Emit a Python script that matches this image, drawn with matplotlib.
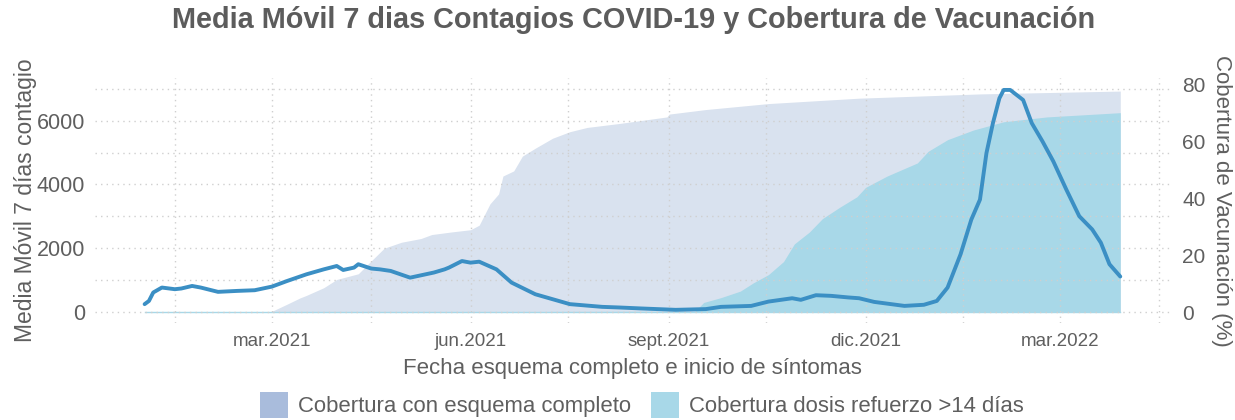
import matplotlib
matplotlib.use('Agg')
from matplotlib import pyplot as plt
from matplotlib.patches import Patch
from matplotlib.ticker import MultipleLocator
import pandas as pd

plt.rcParams['font.family'] = ['Liberation Sans', 'DejaVu Sans']

# media movil 7 dias de contagios
caseDates = ['2021-01-01', '2021-01-03', '2021-01-05', '2021-01-09', '2021-01-15', '2021-01-18',
             '2021-01-23', '2021-01-27', '2021-02-04', '2021-02-13', '2021-02-21', '2021-03-01',
             '2021-03-08', '2021-03-17', '2021-03-25', '2021-03-31', '2021-04-03', '2021-04-08',
             '2021-04-10', '2021-04-16', '2021-04-20', '2021-04-25', '2021-05-04', '2021-05-15',
             '2021-05-20', '2021-05-22', '2021-05-28', '2021-06-01', '2021-06-05', '2021-06-13',
             '2021-06-20', '2021-07-01', '2021-07-09', '2021-07-17', '2021-08-01', '2021-08-09',
             '2021-08-19', '2021-09-04', '2021-09-18', '2021-09-25', '2021-10-09', '2021-10-17',
             '2021-10-28', '2021-11-01', '2021-11-08', '2021-11-15', '2021-11-23', '2021-11-28',
             '2021-12-05', '2021-12-19', '2021-12-28', '2022-01-03', '2022-01-08', '2022-01-14',
             '2022-01-19', '2022-01-23', '2022-01-26', '2022-01-29', '2022-02-01', '2022-02-03',
             '2022-02-06', '2022-02-12', '2022-02-16', '2022-02-21', '2022-02-26', '2022-03-04',
             '2022-03-10', '2022-03-16', '2022-03-20', '2022-03-24', '2022-03-29']
caseValues = [250, 350, 615, 770, 718, 740,
              820, 770, 635, 665, 686, 800,
              975, 1185, 1340, 1445, 1320, 1395,
              1500, 1365, 1340, 1290, 1080, 1240,
              1340, 1395, 1600, 1550, 1580, 1340,
              925, 560, 405, 250, 165, 145,
              115, 72, 95, 165, 195, 330,
              435, 385, 530, 510, 460, 435,
              320, 195, 230, 350, 770, 1810,
              2900, 3525, 4980, 5920, 6700, 6960,
              6960, 6645, 5920, 5345, 4720, 3840,
              3005, 2590, 2175, 1500, 1115]

# cobertura esquema completo (%)
fullDates = ['2021-01-01', '2021-02-28', '2021-03-01', '2021-03-08', '2021-03-14', '2021-03-17',
             '2021-03-25', '2021-03-31', '2021-04-10', '2021-04-15', '2021-04-22', '2021-04-30',
             '2021-05-09', '2021-05-14', '2021-05-23', '2021-06-01', '2021-06-05', '2021-06-10',
             '2021-06-14', '2021-06-16', '2021-06-21', '2021-06-25', '2021-07-01', '2021-07-09',
             '2021-07-17', '2021-07-25', '2021-08-09', '2021-08-31', '2021-09-01', '2021-09-18',
             '2021-10-17', '2021-11-28', '2022-01-23', '2022-03-29']
fullValues = [0, 0, 0.3, 2.8, 5.0, 5.9,
              8.6, 11.5, 13.5, 17.3, 22.5, 24.6,
              25.9, 27.3, 28.2, 29.0, 30.6, 38.1,
              41.6, 47.9, 49.7, 54.9, 57.7, 61.2,
              63.5, 65.0, 66.4, 68.7, 69.7, 71.3,
              73.4, 75.3, 76.8, 77.8]

# cobertura dosis refuerzo >14 dias (%)
boostDates = ['2021-01-01', '2021-09-13', '2021-09-17', '2021-09-25', '2021-10-04', '2021-10-10',
              '2021-10-17', '2021-10-24', '2021-10-29', '2021-11-05', '2021-11-11', '2021-11-19',
              '2021-11-27', '2021-12-01', '2021-12-11', '2021-12-25', '2021-12-30', '2022-01-08',
              '2022-01-20', '2022-02-03', '2022-02-23', '2022-03-29']
boostValues = [0, 0.3, 3.4, 5.1, 7.4, 10.3,
               13.2, 17.8, 24.0, 28.2, 32.9, 36.9,
               40.6, 43.9, 47.9, 52.5, 56.6, 60.7,
               64.1, 67.0, 68.7, 70.2]

tickDates = ['2021-03-01', '2021-06-01', '2021-09-01', '2021-12-01', '2022-03-01']
tickLabels = ['mar.2021', 'jun.2021', 'sept.2021', 'dic.2021', 'mar.2022']
minorDates = ['2021-01-15', '2021-04-16', '2021-07-16', '2021-10-16', '2022-01-15', '2022-04-16']

textColor = '#5f5f5f'
gridColor = '#cfcfcf'
fullColor = '#a9bcdc'
fullArea = '#d9e2ef'
boostColor = '#a8d8e8'
lineColor = '#3b8fc4'
coef = 89.0

fig = plt.figure(figsize=(12.35, 4.2), dpi=100)
ax = fig.add_axes([0.0769, 0.231, 0.8704, 0.583])
ax2 = ax.twinx()

fd = pd.to_datetime(fullDates)
bd = pd.to_datetime(boostDates)
cd = pd.to_datetime(caseDates)

ax2.fill_between(fd, 0, fullValues, color=fullArea, linewidth=0)
ax2.fill_between(bd, 0, boostValues, color=boostColor, linewidth=0)
ax2.plot([bd[0], bd[-1]], [0, 0], color=boostColor, lw=1)

ax.set_zorder(ax2.get_zorder() + 1)
ax.patch.set_visible(False)
ax.plot(cd, caseValues, color=lineColor, lw=2.8, solid_capstyle='round', solid_joinstyle='round')

ylo, yhi = -340, 7330
ax.set_ylim(ylo, yhi)
ax2.set_ylim(ylo / coef, yhi / coef)
ax.set_xlim(pd.Timestamp('2020-12-09'), pd.Timestamp('2022-04-21'))

ax.set_yticks([0, 2000, 4000, 6000])
ax.yaxis.set_minor_locator(MultipleLocator(1000))
ax2.set_yticks([0, 20, 40, 60, 80])
ax.set_xticks(pd.to_datetime(tickDates))
ax.set_xticklabels(tickLabels)
ax.set_xticks(pd.to_datetime(minorDates), minor=True)

for a in (ax, ax2):
    for s in a.spines.values():
        s.set_visible(False)
    a.tick_params(which='both', length=0, colors=textColor)

ax.tick_params(axis='y', pad=7, labelsize=15.5)
ax2.tick_params(axis='y', pad=9, labelsize=15)
ax.tick_params(axis='x', pad=7, labelsize=13.5)

ax.grid(True, which='both', color=gridColor, linestyle=(0, (1, 3)), linewidth=1)
ax.set_axisbelow(True)

ax.set_ylabel('Media Móvil 7 días contagio', color=textColor, fontsize=16.5, labelpad=0)
ax2.set_ylabel('Cobertura de Vacunación (%)', color=textColor, fontsize=16, rotation=-90, labelpad=19)
ax.set_xlabel('Fecha esquema completo e inicio de síntomas', color=textColor, fontsize=16, labelpad=6)

fig.text(0.513, 0.952, 'Media Móvil 7 dias Contagios COVID-19 y Cobertura de Vacunación',
         ha='center', va='center', fontsize=20.8, fontweight='bold', color='#5c5c5c')

handles = [Patch(facecolor=fullColor, edgecolor='none'), Patch(facecolor=boostColor, edgecolor='none')]
fig.legend(handles, ['Cobertura con esquema completo', 'Cobertura dosis refuerzo >14 días'],
           loc='lower center', bbox_to_anchor=(0.52, -0.042), ncol=2, frameon=False,
           fontsize=15.9, labelcolor=textColor, handlelength=1.27, handleheight=1.4,
           columnspacing=0.9, handletextpad=0.45)

fig.savefig('out.png', dpi=100)
